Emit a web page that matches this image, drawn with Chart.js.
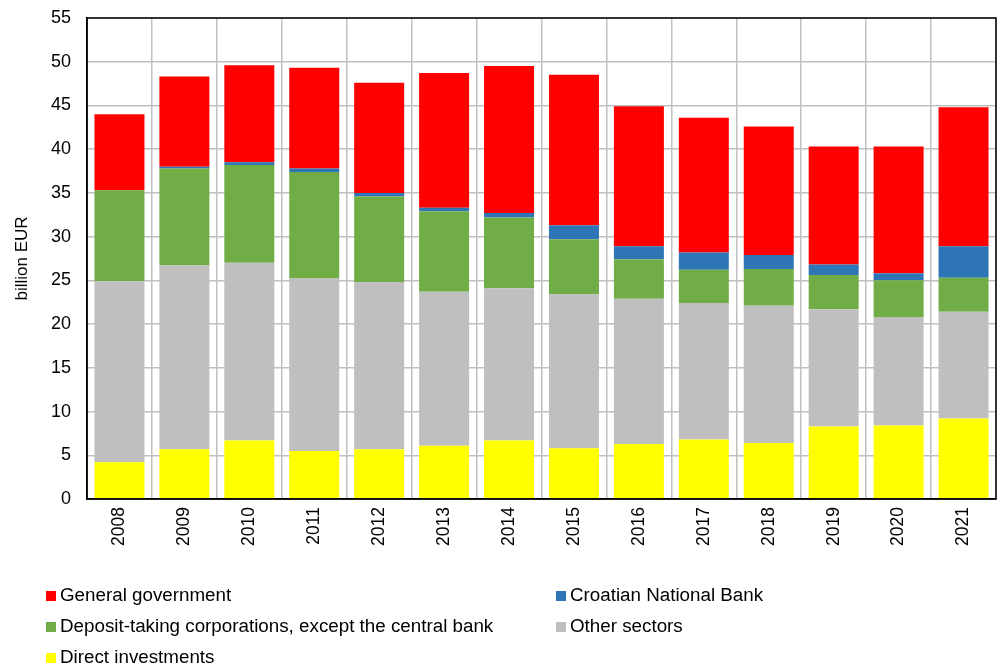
<!DOCTYPE html>
<html>
  <head>
    <script src="https://cdn.jsdelivr.net/npm/chart.js@4/dist/chart.umd.min.js"></script>
    <style>
      body { margin: 0; background: #fff; font-family: 'Liberation Sans', Arial, sans-serif; }
      #wrap { position: relative; width: 997px; height: 665px; }
      #legend { position: absolute; left: 46px; top: 584px; width: 950px; font-size: 18.8px; color: #000; }
      .item { position: absolute; white-space: nowrap; line-height: 22px; }
      .item span.box { display: inline-block; width: 10px; height: 10px; margin-right: 4px; vertical-align: 0px; }
    </style>
  </head>

  <body>
    <div id="wrap">
      <canvas id="canvas" width="997" height="665"></canvas>
      <div id="legend"></div>
    </div>
    <script>
      const years = ['2008', '2009', '2010', '2011', '2012', '2013', '2014', '2015', '2016', '2017', '2018', '2019', '2020', '2021'];

      // billion EUR, stacked bottom to top
      const directInvestments = [4.2, 5.7, 6.7, 5.5, 5.7, 6.1, 6.7, 5.8, 6.3, 6.8, 6.4, 8.3, 8.4, 9.2];
      const otherSectors = [20.7, 21.0, 20.3, 19.7, 19.1, 17.6, 17.4, 17.6, 16.6, 15.6, 15.7, 13.4, 12.4, 12.2];
      const depositTaking = [10.4, 11.1, 11.2, 12.2, 9.8, 9.2, 8.1, 6.3, 4.5, 3.8, 4.2, 3.9, 4.2, 3.9];
      const centralBank = [0.0, 0.2, 0.3, 0.4, 0.4, 0.4, 0.5, 1.6, 1.5, 2.0, 1.6, 1.2, 0.8, 3.6];
      const generalGovernment = [8.7, 10.3, 11.1, 11.5, 12.6, 15.4, 16.8, 17.2, 16.0, 15.4, 14.7, 13.5, 14.5, 15.9];

      const yTicks = [0, 5, 10, 15, 20, 25, 30, 35, 40, 45, 50, 55];

      const font = "'Liberation Sans', Arial, sans-serif";

      const frame = {
        id: 'frame',
        afterDraw(chart) {
          const { ctx, chartArea: a } = chart;
          ctx.save();
          ctx.strokeStyle = '#000';
          ctx.lineWidth = 1.5;
          ctx.strokeRect(a.left, a.top, a.right - a.left, a.bottom - a.top);
          ctx.restore();
        },
      };

      const ds = (label, data, color) => ({
        label,
        data,
        backgroundColor: color,
        borderWidth: 0,
        barPercentage: 0.77,
        categoryPercentage: 1,
      });

      const chart = new Chart(document.getElementById('canvas').getContext('2d'), {
        type: 'bar',
        data: {
          labels: years,
          datasets: [
            ds('Direct investments', directInvestments, '#ffff00'),
            ds('Other sectors', otherSectors, '#bfbfbf'),
            ds('Deposit-taking corporations, except the central bank', depositTaking, '#70ad47'),
            ds('Croatian National Bank', centralBank, '#2e75b6'),
            ds('General government', generalGovernment, '#ff0000'),
          ],
        },
        options: {
          responsive: false,
          animation: false,
          layout: { padding: { top: 18, right: 1, left: 0 } },
          plugins: { legend: { display: false }, tooltip: { enabled: false } },
          scales: {
            x: {
              stacked: true,
              grid: { color: '#c0c0c0', lineWidth: 1.5, drawTicks: false },
              border: { color: '#000', width: 1.5 },
              ticks: {
                color: '#000',
                font: { family: font, size: 17.5 },
                minRotation: 90,
                maxRotation: 90,
                padding: 8,
              },
              afterFit(s) { s.height = 166; },
            },
            y: {
              stacked: true,
              min: 0,
              max: 55,
              afterBuildTicks(s) { s.ticks = yTicks.map((v) => ({ value: v })); },
              grid: { color: '#c0c0c0', lineWidth: 1.5, drawTicks: false },
              border: { color: '#000', width: 1.5 },
              ticks: { color: '#000', font: { family: font, size: 18 }, padding: 16 },
              title: {
                display: true,
                text: 'billion EUR',
                color: '#000',
                font: { family: font, size: 17 },
                padding: { top: 12, bottom: 0 },
              },
              afterFit(s) {
                s.width = 87;
                s.paddingTop = 0;
                s.paddingBottom = 0;
              },
            },
          },
        },
        plugins: [frame],
      });

      // two-column legend, top series first
      const legend = document.getElementById('legend');
      const order = chart.data.datasets.slice().reverse();
      order.forEach((d, i) => {
        const el = document.createElement('div');
        el.className = 'item';
        el.style.left = (i % 2 ? 510 : 0) + 'px';
        el.style.top = Math.floor(i / 2) * 31 + 'px';
        el.innerHTML = '<span class="box" style="background:' + d.backgroundColor + '"></span>' + d.label;
        legend.appendChild(el);
      });
    </script>
  </body>
</html>
